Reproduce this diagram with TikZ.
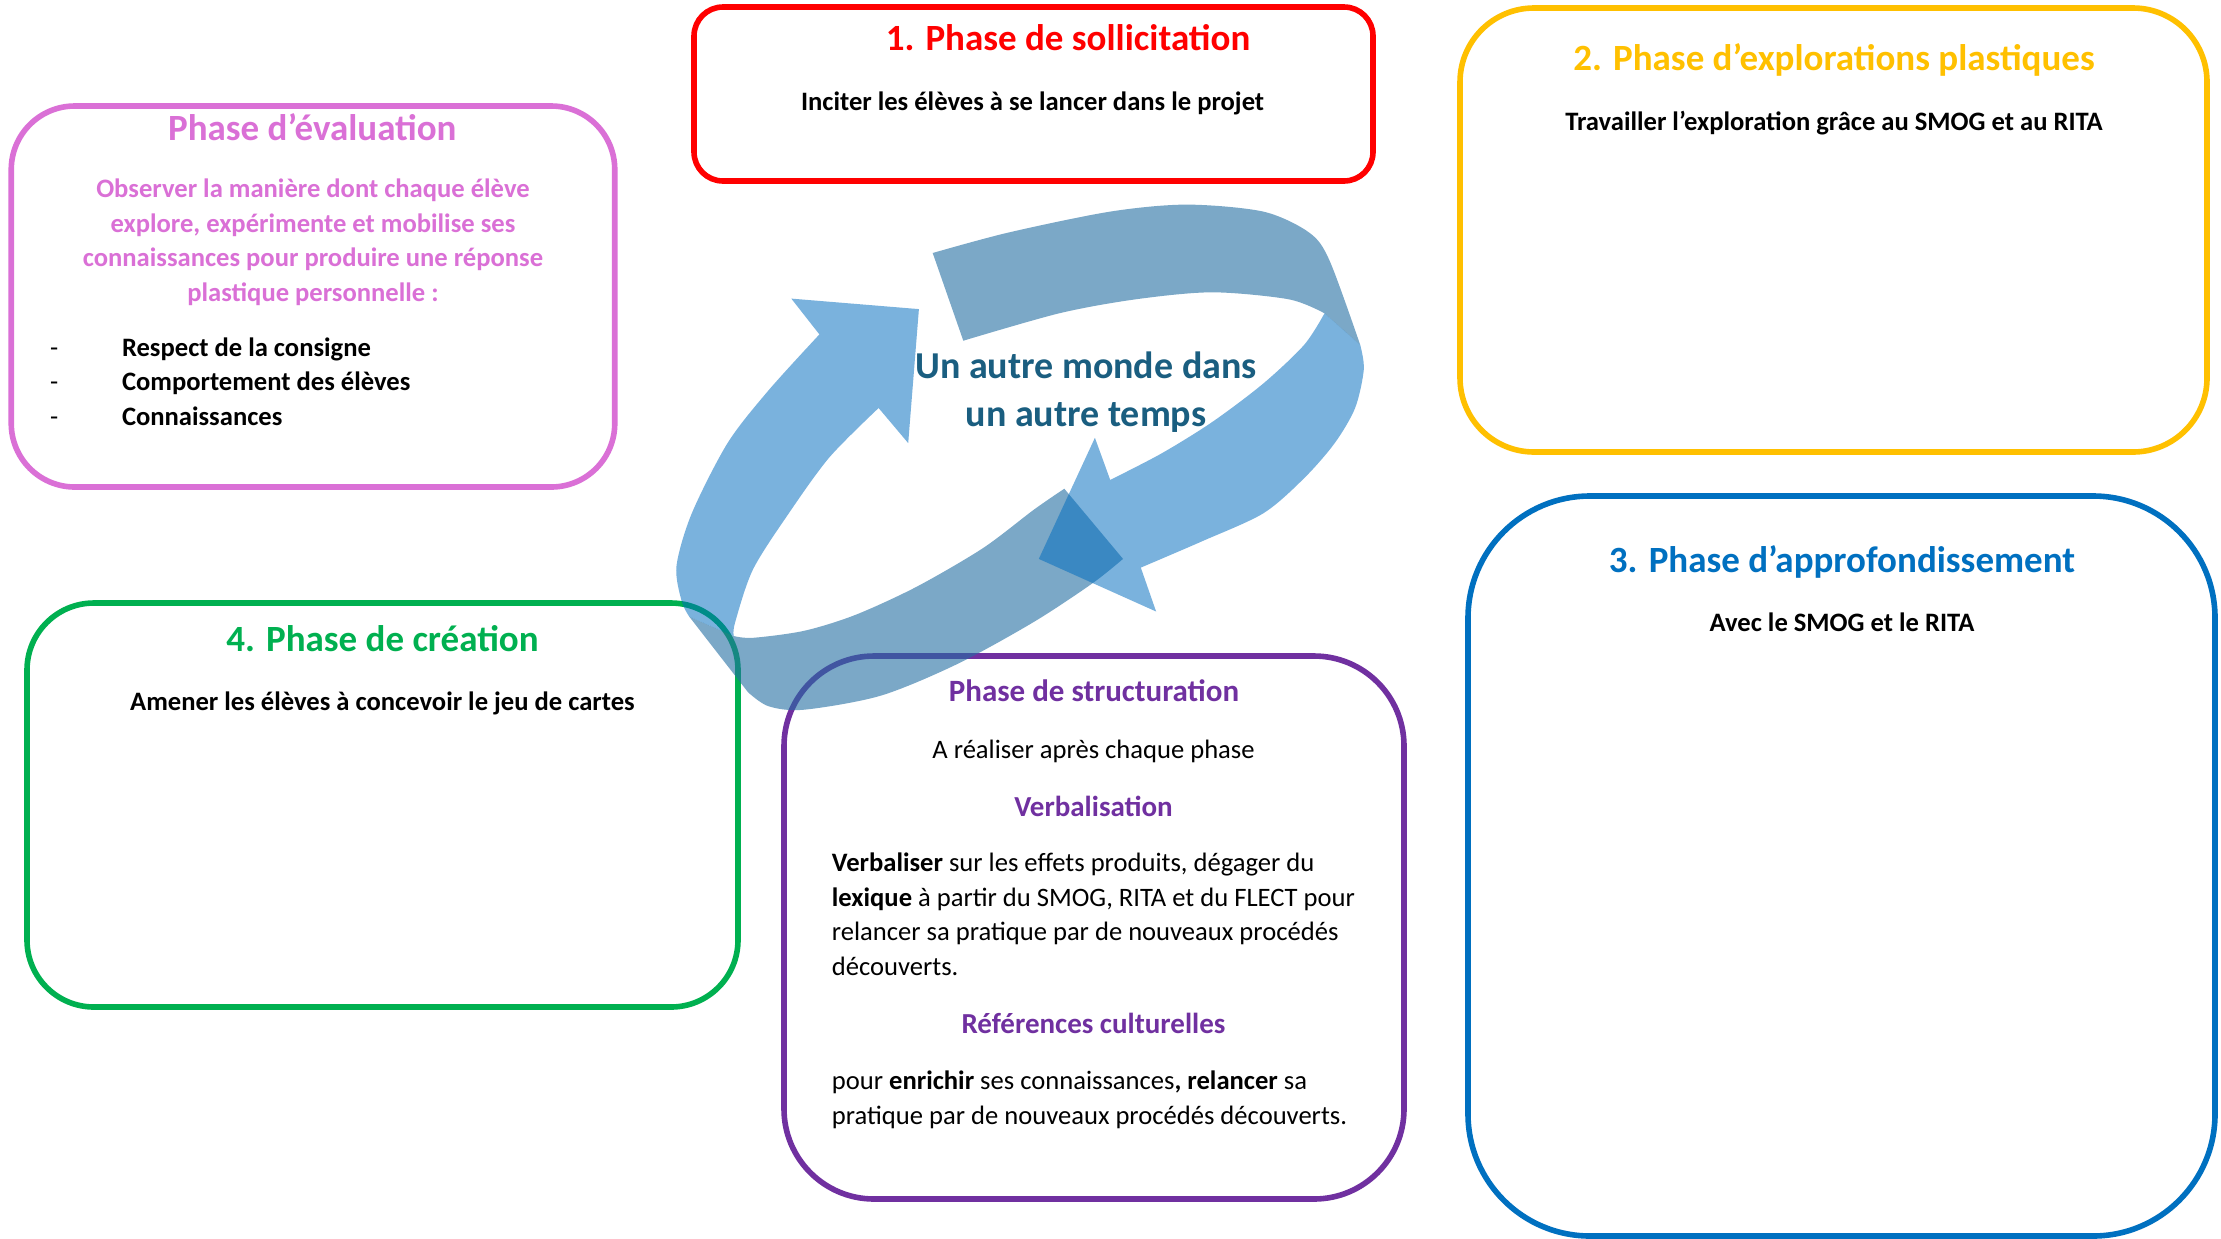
\documentclass[tikz,border=0pt]{standalone}
\usepackage{fontspec}
\setmainfont{Carlito}
\definecolor{rouge}{RGB}{255,0,0}
\definecolor{jaune}{RGB}{255,192,0}
\definecolor{rose}{RGB}{218,112,214}
\definecolor{vert}{RGB}{0,176,80}
\definecolor{violet}{RGB}{112,48,160}
\definecolor{bleu}{RGB}{0,112,192}
\definecolor{fleche}{RGB}{0,108,190}
\definecolor{ruban}{RGB}{35,110,163}
\definecolor{centre}{RGB}{26,94,128}
\begin{document}
\begin{tikzpicture}[x=0.5pt, y=-0.5pt,
    cadre/.style={draw=#1, line width=2.8pt, inner sep=0pt},
    titre/.style={font=\bfseries\fontsize{18.5}{22}\selectfont, anchor=base, inner sep=0pt},
    consigne/.style={font=\bfseries\fontsize{13.3}{17.3}\selectfont, anchor=base, inner sep=0pt},
    courant/.style={font=\fontsize{13.3}{17.3}\selectfont, anchor=base, inner sep=0pt},
    soustitre/.style={font=\bfseries\fontsize{14.5}{17.3}\selectfont, text=violet, anchor=base, inner sep=0pt}]
  \path[use as bounding box, fill=white] (0,0) rectangle (2221,1238);

  % les six phases
  \node[cadre=rouge, rounded corners=14.5pt, minimum width=339.5pt, minimum height=87pt] (sollicitation) at (1033.5,94) {};
  \node[cadre=jaune, rounded corners=37pt, minimum width=373.5pt, minimum height=222pt] (exploration) at (1833.5,230) {};
  \node[cadre=rose, rounded corners=31.75pt, minimum width=301.75pt, minimum height=190.5pt] (evaluation) at (313,296.5) {};
  \node[cadre=vert, rounded corners=33.5pt, minimum width=355.5pt, minimum height=202pt] (creation) at (382.5,805) {};
  \node[cadre=violet, rounded corners=45pt, minimum width=310pt, minimum height=271.5pt] (structuration) at (1094,927.5) {};
  \node[cadre=bleu, rounded corners=61pt, minimum width=373.5pt, minimum height=370pt] (approfondissement) at (1841.5,866) {};

  % le ruban (dos)
  \begin{scope}[fill=ruban, fill opacity=0.6]
    \fill (932.7,253) -- plot[smooth] coordinates {(932.7,253) (1008.2,232.6) (1110.2,211.6) (1186.7,204.6) (1263.3,211.6) (1309.2,232.6) (1329.6,260.7) (1360.2,344.9)}
      -- (1324.5,313.3) -- plot[smooth] coordinates {(1324.5,313.3) (1288.8,299.3) (1212.2,292.3) (1135.7,299.3) (1059.2,313.3) (963.3,340.7)} -- cycle;
    \fill (1064.3,488.7) -- (1123,558.9) -- plot[smooth] coordinates {(1123,558.9) (1092.3,583.4) (1033.7,622) (957.1,664.1) (880.6,695.7) (804.1,709.7) (768.4,706.2) (748,692.2)}
      -- (689.3,616.7) -- (733.7,636) -- plot[smooth] coordinates {(733.7,636) (753,637.8) (804.1,630.8) (855.1,615) (916.3,586.9) (982.7,548.3) (1033.7,509.8) (1064.3,488.7)} -- cycle;
  \end{scope}

  % les fleches (face)
  \begin{scope}[fill=fleche, fill opacity=0.52]
    \fill plot[smooth] coordinates {(689.3,616.7) (681.6,601) (676.5,565.9) (691.8,513.3) (727.6,443) (768.4,390.5) (819.4,334.4)}
      -- (791.3,298.6) -- (918.9,309.1) -- (908.2,443.1) -- (878.6,408)
      -- plot[smooth] coordinates {(878.6,408) (829.6,457.1) (788.8,513.3) (753,569.4) (735.2,622) (733.7,636)} -- cycle;
    \fill plot[smooth] coordinates {(1360.2,344.9) (1363.8,369.4) (1355.1,408) (1334.7,443.1) (1304.1,478.2) (1263.3,513.3) (1202,541.3) (1140.8,567.6)}
      -- (1156.1,611.5) -- (1038.8,558.9) -- (1094.9,437.8) -- (1110.2,479.9)
      -- plot[smooth] coordinates {(1110.2,479.9) (1161.2,453.6) (1212.2,422) (1263.3,383.5) (1304.1,344.9) (1324.5,313.3)} -- cycle;
  \end{scope}

  \node[font=\bfseries\fontsize{19}{24}\selectfont, text=centre, align=center, anchor=base, inner sep=0pt] (theme) at (1086,426) {Un autre monde dans\\un autre temps};

  % textes
  \node[titre, text=rouge] (titre1) at (1068,50.5) {1. Phase de sollicitation};
  \node[consigne] (texte1) at (1032.6,110) {Inciter les élèves à se lancer dans le projet};

  \node[titre, text=jaune] (titre2) at (1834,70.5) {2. Phase d’explorations plastiques};
  \node[consigne] (texte2) at (1834,130) {Travailler l’exploration grâce au SMOG et au RITA};

  \node[titre, text=bleu] (titre3) at (1842,572.5) {3. Phase d’approfondissement};
  \node[consigne] (texte3) at (1842,631.5) {Avec le SMOG et le RITA};

  \node[titre, text=vert] (titre4) at (382.5,651.5) {4. Phase de création};
  \node[consigne] (texte4) at (382.5,710.5) {Amener les élèves à concevoir le jeu de cartes};

  \node[titre, text=rose] (titre5) at (312.3,140) {Phase d’évaluation};
  \node[consigne, text=rose, align=center] (texte5) at (313,301.5) {Observer la manière dont chaque élève\\explore, expérimente et mobilise ses\\connaissances pour produire une réponse\\plastique personnelle :};
  \node[consigne, anchor=base west, align=left] (criteres) at (49.6,425.5) {\makebox[36pt][l]{\mdseries -}Respect de la consigne\\\makebox[36pt][l]{\mdseries -}Comportement des élèves\\\makebox[36pt][l]{\mdseries -}Connaissances};

  \node[soustitre, font=\bfseries\fontsize{15.5}{17.3}\selectfont] (titre6) at (1094,701.5) {Phase de structuration};
  \node[courant] (texte6) at (1093.5,758.5) {A réaliser après chaque phase};
  \node[soustitre] (verbal) at (1093.5,816.5) {Verbalisation};
  \node[courant, anchor=base west, align=left] (verbaltexte) at (831.5,975.5) {\textbf{Verbaliser} sur les effets produits, dégager du\\\textbf{lexique} à partir du SMOG, RITA et du FLECT pour\\relancer sa pratique par de nouveaux procédés\\découverts.};
  \node[soustitre] (references) at (1093.5,1033.5) {Références culturelles};
  \node[courant, anchor=base west, align=left] (referencestexte) at (831.5,1124.5) {pour \textbf{enrichir} ses connaissances\textbf{, relancer} sa\\pratique par de nouveaux procédés découverts.};
\end{tikzpicture}
\end{document}
